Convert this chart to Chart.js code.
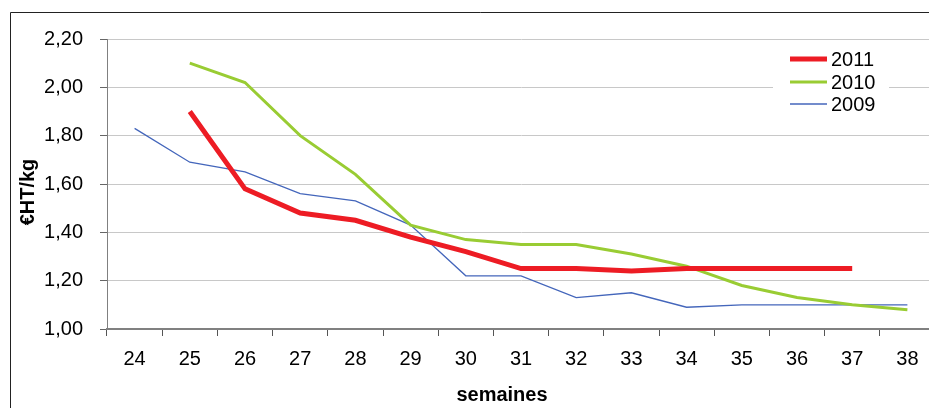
<!DOCTYPE html>
<html>
<head>
<meta charset="utf-8">
<script src="https://cdn.jsdelivr.net/npm/chart.js@4.4.1/dist/chart.umd.min.js"></script>
<style>
html,body{margin:0;padding:0;background:#fff;overflow:hidden;width:929px;height:408px;}
#wrap{position:absolute;left:0;top:0;width:950px;height:420px;}
</style>
</head>
<body>
<div id="wrap"><canvas id="c" width="950" height="420"></canvas></div>
<script>
const weeks = ['24','25','26','27','28','29','30','31','32','33','34','35','36','37','38'];
const s2011 = [null,1.90,1.58,1.48,1.45,1.38,1.32,1.25,1.25,1.24,1.25,1.25,1.25,1.25,null];
const s2010 = [null,2.10,2.02,1.80,1.64,1.43,1.37,1.35,1.35,1.31,1.26,1.18,1.13,1.10,1.08];
const s2009 = [1.83,1.69,1.65,1.56,1.53,1.43,1.22,1.22,1.13,1.15,1.09,1.10,1.10,1.10,1.10];
const seriesLabels = ['2011','2010','2009'];
const yTitle = '€HT/kg';
const xTitle = 'semaines';

const colors = ['#ED1C24','#99CC33','#4466BB'];
const widths = [5,3,1.3];
const FONT = '"Liberation Sans", Arial, sans-serif';

const overlay = {
  id:'overlay',
  afterDraw(chart){
    const ctx = chart.ctx;
    ctx.save();
    // frame
    ctx.strokeStyle = '#222';
    ctx.lineWidth = 1;
    ctx.beginPath();
    ctx.moveTo(10.5, 500);
    ctx.lineTo(10.5, 12.5);
    ctx.lineTo(1000, 12.5);
    ctx.stroke();
    // legend
    ctx.fillStyle = '#fff';
    ctx.fillRect(773, 45, 116, 70);
    const ys = [59, 82, 104];
    chart.data.datasets.forEach((ds, i) => {
      ctx.strokeStyle = ds.borderColor;
      ctx.lineWidth = ds.borderWidth;
      ctx.beginPath();
      ctx.moveTo(790, ys[i]);
      ctx.lineTo(827, ys[i]);
      ctx.stroke();
      ctx.fillStyle = '#000';
      ctx.font = '20px ' + FONT;
      ctx.textBaseline = 'middle';
      ctx.textAlign = 'left';
      ctx.fillText(ds.label, 831, ys[i] + 1);
    });
    // axis titles
    ctx.fillStyle = '#000';
    ctx.font = 'bold 20px ' + FONT;
    ctx.textAlign = 'center';
    ctx.textBaseline = 'middle';
    ctx.fillText(xTitle, 502, 395);
    ctx.translate(28, 192);
    ctx.rotate(-Math.PI/2);
    ctx.fillText(yTitle, 0, 0);
    ctx.restore();
  }
};

new Chart(document.getElementById('c'), {
  type:'line',
  data:{
    labels: weeks,
    datasets: [
      {label: seriesLabels[0], data: s2011, borderColor: colors[0], backgroundColor: colors[0], borderWidth: widths[0]},
      {label: seriesLabels[1], data: s2010, borderColor: colors[1], backgroundColor: colors[1], borderWidth: widths[1]},
      {label: seriesLabels[2], data: s2009, borderColor: colors[2], backgroundColor: colors[2], borderWidth: widths[2]}
    ]
  },
  options:{
    responsive:false,
    animation:false,
    devicePixelRatio: 1,
    elements:{point:{radius:0, hoverRadius:0}, line:{tension:0, borderJoinStyle:'miter'}},
    layout:{padding:{left:0, top:39, right:15, bottom:0}},
    plugins:{legend:{display:false}, tooltip:{enabled:false}},
    scales:{
      x:{
        offset:true,
        grid:{offset:true, drawOnChartArea:false, drawTicks:true, tickLength:7, tickColor:'#555', lineWidth:1},
        border:{color:'#808080', width:2},
        ticks:{color:'#000', font:{family:FONT, size:20}, padding:11, maxRotation:0, autoSkip:false},
        afterFit(s){ s.height = 91; }
      },
      y:{
        min:1.0, max:2.2,
        grid:{color:'#c8c8c8', tickColor:'#666', tickLength:7, lineWidth:1},
        border:{color:'#808080', width:1},
        ticks:{stepSize:0.2, color:'#000', font:{family:FONT, size:20}, padding:17,
          callback:(v)=>v.toFixed(2).replace('.',',')},
        afterFit(s){ s.width = 107; }
      }
    }
  },
  plugins:[overlay]
});
</script>
</body>
</html>
